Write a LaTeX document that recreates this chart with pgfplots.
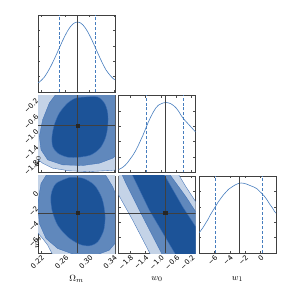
\documentclass[border=0pt]{standalone}
\usepackage{fontspec}
\setmainfont{DejaVu Sans}
\usepackage{pgfplots}
\pgfplotsset{compat=1.18}
\definecolor{cdark}{RGB}{28,83,152}
\definecolor{cmed}{RGB}{96,136,188}
\definecolor{clight}{RGB}{196,211,231}
\definecolor{cedge}{RGB}{62,112,182}
\definecolor{chist}{RGB}{70,125,190}
\pgfplotsset{
 cp/.style={scale only axis, width=77bp, height=77bp,
  axis line style={black!75, line width=0.5pt},
  tick style={black!70, line width=0.4pt}, major tick length=2.2bp, tick align=inside,
  ticklabel style={font=\fontsize{7}{8}\selectfont, inner sep=0.8pt},
  xticklabel style={rotate=45, anchor=north east},
  yticklabel style={rotate=45, anchor=east},
  label style={font=\fontsize{9.5}{11}\selectfont},
  xlabel style={at={(axis description cs:0.5,0)}, anchor=center, yshift=-26bp},
  ylabel style={at={(axis description cs:0,0.5)}, anchor=center, xshift=-28bp},
 },
 om/.style={xmin=0.215, xmax=0.342, xtick={0.22,0.26,0.30,0.34}},
 wz/.style={xmin=-2.1, xmax=-0.1, xtick={-1.8,-1.4,-1.0,-0.6,-0.2}},
 wzy/.style={ymin=-2.1, ymax=-0.1, ytick={-1.8,-1.4,-1.0,-0.6,-0.2}},
 woy/.style={ymin=-8, ymax=2, ytick={-6,-4,-2,0}},
 hist/.style={ymin=0, ymax=1.1, ytick={0.22,0.44,0.66,0.88}, yticklabels={}},
 hl/.style={chist, line width=0.6pt},
 dl/.style={chist, line width=0.6pt, dash pattern=on 3pt off 1.8pt},
 ml/.style={black!75, line width=0.6pt},
 fl/.style={fill=clight, draw=cedge, line width=0.35pt},
 fm/.style={fill=cmed, draw=cedge, line width=0.35pt},
 fd/.style={fill=cdark, draw=cedge, line width=0.35pt},
}
\begin{document}
\begin{tikzpicture}
\useasboundingbox (0,0) rectangle (291bp,291bp);
% ---- Omega_m histogram
\begin{axis}[cp, om, hist, xticklabels={}, at={(38bp,199bp)}, anchor=south west]
\addplot[hl] table[row sep=\\]{x y\\
0.2150 0.135\\ 0.2171 0.140\\ 0.2214 0.175\\ 0.2256 0.214\\ 0.2298 0.270\\ 0.2341 0.334\\ 0.2383 0.405\\
0.2425 0.481\\ 0.2468 0.564\\ 0.2510 0.645\\ 0.2552 0.726\\ 0.2595 0.803\\ 0.2637 0.871\\
0.2679 0.927\\ 0.2722 0.969\\ 0.2764 0.993\\ 0.2806 1.000\\ 0.2849 0.988\\ 0.2891 0.958\\
0.2933 0.912\\ 0.2976 0.851\\ 0.3018 0.781\\ 0.3060 0.703\\ 0.3103 0.620\\ 0.3145 0.538\\
0.3187 0.459\\ 0.3230 0.382\\ 0.3272 0.314\\ 0.3314 0.265\\ 0.3357 0.220\\ 0.3399 0.185\\
0.3420 0.175\\};
\addplot[ml] coordinates {(0.28,0) (0.28,1.1)};
\addplot[dl] coordinates {(0.25,0) (0.25,1.1)};
\addplot[dl] coordinates {(0.31,0) (0.31,1.1)};
\end{axis}
% ---- w0 vs Omega_m
\begin{axis}[cp, om, wzy, xticklabels={}, yticklabels={−1.8,−1.4,−1.0,−0.6,−0.2}, ylabel={$w_0$}, at={(38bp,118.5bp)}, anchor=south west]
\addplot[fl] coordinates {(0.2007,0.225) (0.2007,-1.597) (0.2117,-1.728) (0.2227,-1.858) (0.2392,-1.988) (0.2667,-2.057) (0.2997,-2.075) (0.3327,-2.049) (0.3602,-2.014) (0.3602,0.225)} -- cycle;
\addplot[fm] coordinates {(0.2502,0.052) (0.2337,-0.295) (0.2227,-0.729) (0.2172,-1.163) (0.2200,-1.511) (0.2310,-1.771) (0.2557,-1.901) (0.2887,-1.919) (0.3162,-1.858) (0.3382,-1.728) (0.3547,-1.511) (0.3575,-0.903) (0.3520,-0.382) (0.3382,0.052) (0.2942,0.225)} -- cycle;
\addplot[fd, smooth] coordinates {(0.2942,-0.139) (0.3135,-0.139) (0.3245,-0.295) (0.3300,-0.556) (0.3300,-0.903) (0.3261,-1.207) (0.3173,-1.467) (0.3025,-1.641) (0.2832,-1.702) (0.2640,-1.702) (0.2475,-1.597) (0.2392,-1.424) (0.2381,-1.163) (0.2420,-0.860) (0.2502,-0.556) (0.2640,-0.295) (0.2777,-0.165) (0.2942,-0.139)};
\addplot[ml] coordinates {(0.28,-2.1) (0.28,-0.1)};
\addplot[ml] coordinates {(0.215,-0.88) (0.342,-0.88)};
\addplot[only marks, mark=square*, mark size=1.6pt, black!85] coordinates {(0.28,-0.88)};
\end{axis}
% ---- w1 vs Omega_m
\begin{axis}[cp, om, woy, xticklabels={0.22,0.26,0.30,0.34}, yticklabels={−6,−4,−2,0}, xlabel={$\Omega_m$}, ylabel={$w_1$}, at={(38bp,38bp)}, anchor=south west]
\addplot[fl] coordinates {(0.2007,3.623) (0.2007,-4.602) (0.2145,-5.381) (0.2227,-6.117) (0.2310,-6.983) (0.2381,-8.065) (0.2447,-8.931) (0.3602,-8.931) (0.3602,3.623)} -- cycle;
\addplot[fm] coordinates {(0.2337,2.758) (0.2200,1.026) (0.2145,-1.572) (0.2172,-4.169) (0.2282,-6.117) (0.2475,-7.416) (0.2777,-8.281) (0.3107,-8.281) (0.3327,-7.632) (0.3464,-6.333) (0.3519,-4.169) (0.3492,-1.572) (0.3382,0.593) (0.3217,2.758)} -- cycle;
\addplot[fd, smooth] coordinates {(0.2667,1.806) (0.2887,1.719) (0.3080,0.810) (0.3206,-0.922) (0.3256,-3.087) (0.3234,-5.035) (0.3135,-6.550) (0.2997,-7.069) (0.2832,-6.853) (0.2640,-5.901) (0.2475,-4.385) (0.2381,-2.437) (0.2365,-0.489) (0.2447,1.026) (0.2667,1.806)};
\addplot[ml] coordinates {(0.28,-8) (0.28,2)};
\addplot[ml] coordinates {(0.215,-2.78) (0.342,-2.78)};
\addplot[only marks, mark=square*, mark size=1.6pt, black!85] coordinates {(0.28,-2.78)};
\end{axis}
% ---- w0 histogram
\begin{axis}[cp, wz, hist, xticklabels={}, at={(118.5bp,118.5bp)}, anchor=south west]
\addplot[hl] table[row sep=\\]{x y\\
-2.1000 0.04\\ -2.0667 0.05\\ -2.0000 0.07\\ -1.9333 0.10\\ -1.8667 0.14\\ -1.8000 0.19\\ -1.7333 0.24\\
-1.6667 0.30\\ -1.6000 0.37\\ -1.5333 0.45\\ -1.4667 0.53\\ -1.4000 0.62\\ -1.3333 0.71\\
-1.2667 0.79\\ -1.2000 0.86\\ -1.1333 0.92\\ -1.0667 0.96\\ -1.0000 0.98\\ -0.9333 0.995\\
-0.8667 1.00\\ -0.8000 0.995\\ -0.7333 0.98\\ -0.6667 0.955\\ -0.6000 0.92\\ -0.5333 0.87\\
-0.4667 0.81\\ -0.4000 0.76\\ -0.3333 0.72\\ -0.2667 0.68\\ -0.2000 0.64\\ -0.1333 0.60\\
-0.1000 0.58\\};
\addplot[ml] coordinates {(-0.885,0) (-0.885,1.1)};
\addplot[dl] coordinates {(-1.39,0) (-1.39,1.1)};
\addplot[dl] coordinates {(-0.41,0) (-0.41,1.1)};
\end{axis}
% ---- w1 vs w0
\begin{axis}[cp, wz, woy, xticklabels={−1.8,−1.4,−1.0,−0.6,−0.2}, yticklabels={}, xlabel={$w_0$}, at={(118.5bp,38bp)}, anchor=south west]
\addplot[fl] coordinates {(-2.252,2.758) (-0.607,2.758) (-0.347,0.593) (-0.087,-1.398) (0.173,-2.870) (0.173,-9.364) (-1.213,-9.364) (-1.282,-8.065) (-1.732,-3.736) (-2.113,-0.316) (-2.252,0.593)} -- cycle;
\addplot[fm] coordinates {(-2.061,2.758) (-0.849,2.758) (-0.347,-0.705) (-0.087,-2.697) (0.173,-4.169) (0.173,-9.364) (-0.953,-9.364) (-0.979,-8.065) (-1.559,-2.437) (-1.905,1.026)} -- cycle;
\addplot[fd] coordinates {(-1.801,2.758) (-0.979,2.758) (-0.433,-2.004) (-0.087,-4.645) (0.173,-6.333) (0.173,-9.364) (-0.563,-9.364) (-0.633,-8.065) (-1.299,-2.437)} -- cycle;
\addplot[ml] coordinates {(-0.885,-8) (-0.885,2)};
\addplot[ml] coordinates {(-2.1,-2.78) (-0.1,-2.78)};
\addplot[only marks, mark=square*, mark size=1.6pt, black!85] coordinates {(-0.885,-2.78)};
\end{axis}
% ---- w1 histogram
\begin{axis}[cp, hist, xmin=-8, xmax=2, xtick={-6,-4,-2,0}, xticklabels={−6,−4,−2,0}, xlabel={$w_1$}, at={(199bp,38bp)}, anchor=south west]
\addplot[hl] table[row sep=\\]{x y\\
-8.000 0.29\\ -7.833 0.31\\ -7.500 0.36\\ -7.167 0.42\\ -6.833 0.48\\ -6.500 0.55\\ -6.167 0.61\\
-5.833 0.67\\ -5.500 0.73\\ -5.167 0.78\\ -4.833 0.83\\ -4.500 0.87\\ -4.167 0.91\\
-3.833 0.935\\ -3.500 0.96\\ -3.167 0.98\\ -2.833 0.995\\ -2.500 1.00\\ -2.167 0.995\\
-1.833 0.985\\ -1.500 0.97\\ -1.167 0.955\\ -0.833 0.94\\ -0.500 0.92\\ -0.167 0.885\\
0.167 0.85\\ 0.500 0.81\\ 0.833 0.76\\ 1.167 0.70\\ 1.500 0.65\\ 1.833 0.59\\
2.000 0.57\\};
\addplot[ml] coordinates {(-2.78,0) (-2.78,1.1)};
\addplot[dl] coordinates {(-5.83,0) (-5.83,1.1)};
\addplot[dl] coordinates {(0.18,0) (0.18,1.1)};
\end{axis}
\end{tikzpicture}
\end{document}
